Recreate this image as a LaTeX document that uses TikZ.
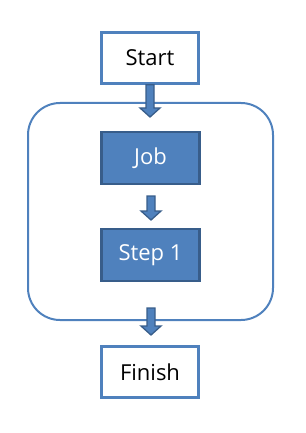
\documentclass[tikz,border=0pt]{standalone}
\usepackage{fontspec}
\setmainfont{Open Sans}
\usetikzlibrary{calc}
\definecolor{mid}{HTML}{4F81BD}
\definecolor{dark}{HTML}{385D8A}
\tikzset{
  whitebox/.style={draw=mid, line width=2.4pt, fill=white, minimum width=97pt, minimum height=51pt, inner sep=0pt, font=\fontsize{22}{26}\selectfont, text=black},
  bluebox/.style={draw=dark, line width=2.4pt, fill=mid, minimum width=98pt, minimum height=52pt, inner sep=0pt, font=\fontsize{22}{26}\selectfont, text=white},
  container/.style={draw=mid, line width=2pt, rounded corners=32pt},
  barrow/.style={draw=dark, fill=mid, line width=1.3pt, line join=miter}
}
\newcommand{\blockarr}[2]{%
  \draw[barrow] ($(#1)+(-4,0)$) -- ($(#2)+(-4,-9)$) -- ($(#2)+(-10,-9)$) -- (#2)
    -- ($(#2)+(10,-9)$) -- ($(#2)+(4,-9)$) -- ($(#1)+(4,0)$) -- cycle;}
\begin{document}
\begin{tikzpicture}[x=1pt,y=-1pt]
\useasboundingbox (0,0) rectangle (305,433);
\node[container, minimum width=245pt, minimum height=217pt] (cont) at (150.5,211.5) {};
\node[whitebox] (start) at (150,58) {Start};
\node[bluebox] (job) at (150.5,158) {Job};
\node[bluebox] (step) at (150.5,255) {Step 1};
\node[whitebox] (finish) at (150,372) {Finish};
\coordinate (a1) at (150,117);
\coordinate (b2) at (151,196);
\coordinate (a2) at (151,220);
\coordinate (b3) at (151,308);
\coordinate (a3) at (151,335);
\blockarr{start.south}{a1}
\blockarr{b2}{a2}
\blockarr{b3}{a3}
\end{tikzpicture}
\end{document}
